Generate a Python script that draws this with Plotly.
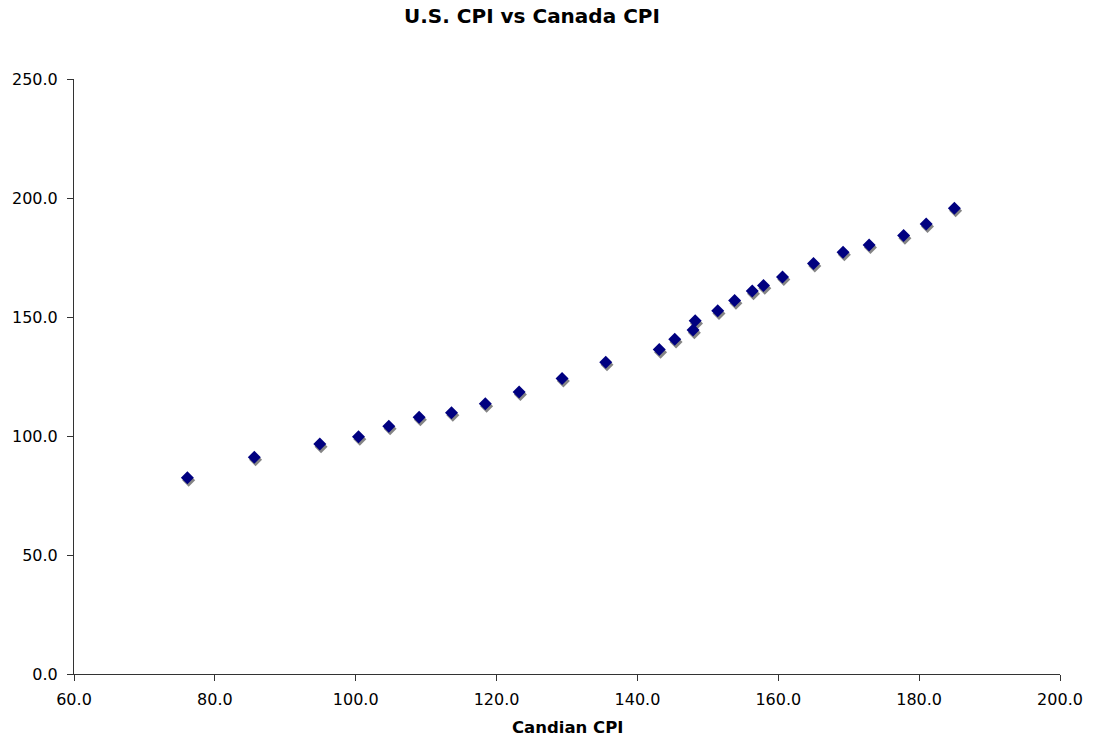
import plotly.graph_objects as go

# Consumer price index pairs: Canada (x) against U.S. (y)
canada_cpi = [76.1, 85.6, 94.9, 100.4, 104.7, 109.0, 113.6, 118.4, 123.2, 129.3,
              135.5, 143.1, 145.3, 147.9, 148.2, 151.4, 153.8, 156.3, 157.9, 160.6,
              165.0, 169.2, 172.9, 177.8, 181.0, 185.0]
us_cpi = [82.5, 91.1, 96.6, 99.7, 104.1, 107.9, 109.8, 113.6, 118.5, 124.2,
          131.0, 136.3, 140.6, 144.5, 148.4, 152.6, 156.9, 160.9, 163.2, 166.8,
          172.5, 177.2, 180.3, 184.2, 189.1, 195.7]

x_range = [60, 200]
y_range = [0, 250]
x_ticks = [60, 80, 100, 120, 140, 160, 180, 200]
y_ticks = [0, 50, 100, 150, 200, 250]

W, H = 1095, 740
margin = dict(l=74, r=33, t=79, b=66)
plot_w = W - margin["l"] - margin["r"]
plot_h = H - margin["t"] - margin["b"]

# drop shadow: shift by a pixel or two in screen space
dx = 1.3 * (x_range[1] - x_range[0]) / plot_w
dy = -2.6 * (y_range[1] - y_range[0]) / plot_h

font_family = "Verdana, DejaVu Sans, sans-serif"

fig = go.Figure()
fig.add_trace(go.Scatter(
    x=[v + dx for v in canada_cpi], y=[v + dy for v in us_cpi],
    mode="markers",
    marker=dict(symbol="diamond", size=10, color="#858585", line=dict(width=0)),
    hoverinfo="skip", showlegend=False,
))
fig.add_trace(go.Scatter(
    x=canada_cpi, y=us_cpi,
    mode="markers",
    marker=dict(symbol="diamond", size=10, color="#000080", line=dict(width=0)),
    showlegend=False,
))

axis_common = dict(
    showgrid=False, zeroline=False,
    showline=True, linecolor="#333333", linewidth=1,
    ticks="outside", ticklen=6, tickcolor="#333333", tickwidth=1,
    tickfont=dict(family=font_family, size=16, color="#000000"),
    tickformat=".1f",
)

fig.update_xaxes(range=x_range, tickvals=x_ticks, ticklabelstandoff=5, **axis_common)
fig.update_yaxes(range=y_range, tickvals=y_ticks, ticklabelstandoff=6, **axis_common)

fig.update_layout(
    width=W, height=H,
    margin=margin,
    paper_bgcolor="white", plot_bgcolor="white",
    font=dict(family=font_family, color="#000000"),
    annotations=[
        dict(text="<b>U.S. CPI vs Canada CPI</b>", xref="paper", yref="paper",
             x=(533 - margin["l"]) / plot_w, y=1 + (79 - 16) / plot_h,
             xanchor="center", yanchor="middle", showarrow=False,
             font=dict(family=font_family, size=20, color="#000000")),
        dict(text="<b>Candian CPI</b>", xref="paper", yref="paper",
             x=0.5, y=-(727 - (H - margin["b"])) / plot_h,
             xanchor="center", yanchor="middle", showarrow=False,
             font=dict(family=font_family, size=16.5, color="#000000")),
    ],
)

fig.write_html("out.html")
